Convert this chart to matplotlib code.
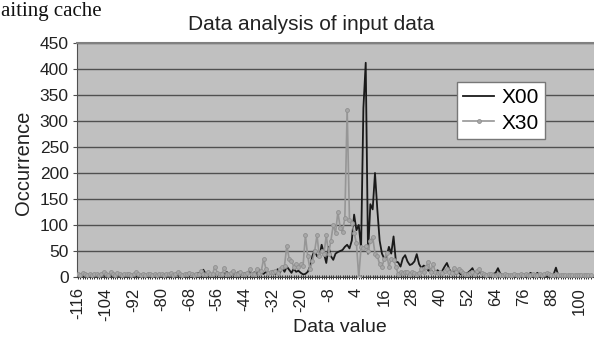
import numpy as np
import matplotlib
matplotlib.use("Agg")
import matplotlib.pyplot as plt

plt.rcParams['font.family'] = ['Liberation Sans', 'DejaVu Sans']

# categories -116 .. 105
data_values = list(range(-116, 106))

x00 = [3, 2, 3, 2, 3, 3, 2, 3, 2, 3, 2, 3,
       3, 2, 3, 2, 4, 3, 2, 3, 2, 3, 3, 2,
       3, 2, 3, 4, 3, 2, 3, 3, 2, 3, 2, 3,
       3, 4, 3, 2, 3, 3, 4, 3, 5, 4, 3, 4,
       4, 5, 3, 6, 8, 5, 14, 6, 8, 4, 6, 5,
       6, 4, 8, 5, 10, 6, 4, 7, 5, 9, 6, 4,
       8, 5, 12, 6, 9, 5, 14, 8, 6, 10, 5, 8,
       12, 6, 15, 8, 18, 10, 20, 14, 8, 16, 10, 12,
       8, 5, 6, 10, 20, 40, 52, 40, 38, 62, 45, 27,
       58, 40, 33, 45, 48, 50, 52, 58, 62, 55, 70, 120,
       90, 100, 55, 325, 412, 45, 140, 130, 200, 130, 70, 45,
       35, 40, 58, 45, 78, 30, 28, 20, 36, 42, 30, 23,
       25, 30, 44, 25, 17, 22, 19, 12, 15, 8, 10, 13,
       8, 12, 20, 27, 15, 8, 10, 6, 9, 5, 7, 6,
       8, 12, 17, 6, 5, 10, 6, 4, 5, 3, 4, 6,
       8, 17, 6, 4, 3, 5, 4, 3, 4, 5, 3, 4,
       4, 6, 3, 8, 5, 4, 8, 3, 4, 3, 2, 3,
       3, 5, 18, 3, 2, 3, 2, 3, 2, 3, 2, 3,
       2, 3, 2, 3, 2, 3]

x30 = [5, 4, 8, 5, 4, 5, 4, 6, 5, 4, 5, 10,
       5, 4, 10, 5, 4, 8, 5, 4, 5, 6, 5, 4,
       5, 10, 5, 4, 5, 4, 6, 5, 4, 5, 4, 5,
       5, 4, 6, 5, 8, 4, 5, 10, 5, 4, 6, 5,
       8, 5, 4, 6, 5, 12, 6, 5, 10, 5, 6, 20,
       8, 6, 5, 18, 6, 5, 8, 12, 6, 5, 10, 6,
       6, 8, 15, 6, 5, 15, 8, 12, 35, 15, 8, 10,
       10, 12, 8, 15, 20, 22, 60, 35, 30, 20, 25, 20,
       25, 22, 80, 40, 15, 30, 50, 80, 40, 50, 45, 80,
       45, 70, 100, 85, 125, 95, 87, 113, 322, 110, 104, 85,
       65, 0, 58, 55, 60, 50, 70, 77, 45, 40, 25, 20,
       35, 46, 20, 35, 33, 20, 5, 10, 8, 10, 10, 5,
       10, 8, 5, 8, 15, 10, 20, 29, 10, 25, 10, 8,
       10, 8, 12, 15, 10, 8, 17, 10, 15, 12, 8, 5,
       5, 8, 10, 6, 12, 15, 8, 5, 4, 6, 5, 4,
       4, 5, 4, 3, 5, 4, 3, 4, 5, 3, 4, 5,
       4, 5, 3, 4, 5, 4, 3, 5, 4, 6, 8, 5,
       4, 3, 5, 3, 4, 3, 4, 3, 4, 3, 4, 3,
       3, 4, 3, 4, 3, 4]

tick_labels = list(range(-116, 101, 12))

fig = plt.figure(figsize=(5.94, 3.38), dpi=100)
ax = fig.add_axes([77/594, 61/338, 517/594, 234/338])
ax.set_facecolor('#c0c0c0')

ax.plot(data_values, x00, color='#1a1a1a', lw=1.3, label='X00', zorder=3)
ax.plot(data_values, x30, color='#969696', lw=1.2, marker='o', ms=2.8,
        mfc='#a8a8a8', mec='#909090', mew=0.6, label='X30', zorder=3)

ax.set_xlim(-116.45, 106.4)
ax.set_ylim(0, 450)
ax.set_yticks(range(0, 451, 50))
ax.set_xticks(tick_labels)
ax.set_xticks(data_values, minor=True)
ax.set_xticklabels([str(t) for t in tick_labels], rotation=90, fontsize=12, color='#222222')
ax.tick_params(axis='y', labelsize=12.5, labelcolor='#222222', length=3, color='#505050', pad=3)
ax.tick_params(axis='x', which='both', direction='inout', length=3, width=0.7, color='#303030', pad=6)

ax.grid(axis='y', color='#505050', lw=1.0)
ax.set_axisbelow(True)
ax.spines['right'].set_visible(False)
ax.spines['top'].set_color('#808080')
ax.spines['top'].set_linewidth(1.5)
ax.spines['left'].set_color('#505050')
ax.spines['bottom'].set_color('#404040')

ax.set_ylabel('Occurrence', fontsize=14.5, color='#222222')
ax.yaxis.set_label_coords(-0.085, 0.49)
ax.set_xlabel('Data value', fontsize=14, color='#222222')
ax.xaxis.set_label_coords(0.509, -0.18)

fig.text(311.5/594, 1 - 30/338, 'Data analysis of input data', ha='center',
         va='baseline', fontsize=15, color='#222222')
# fragment of the surrounding document text, kept fully inside the canvas
fig.text(0.002, 1 - 16/338, 'aiting cache', ha='left', va='baseline',
         fontsize=15, family='Liberation Serif', color='#111111')

leg = ax.legend(loc='upper left', bbox_to_anchor=(0.735, 0.833), fontsize=15,
                fancybox=False, edgecolor='#777777', framealpha=1,
                borderpad=0.3, handlelength=1.5, handletextpad=0.35,
                labelspacing=0.3, borderaxespad=0)
leg.get_frame().set_linewidth(1.0)

fig.savefig('out.png', dpi=100)
